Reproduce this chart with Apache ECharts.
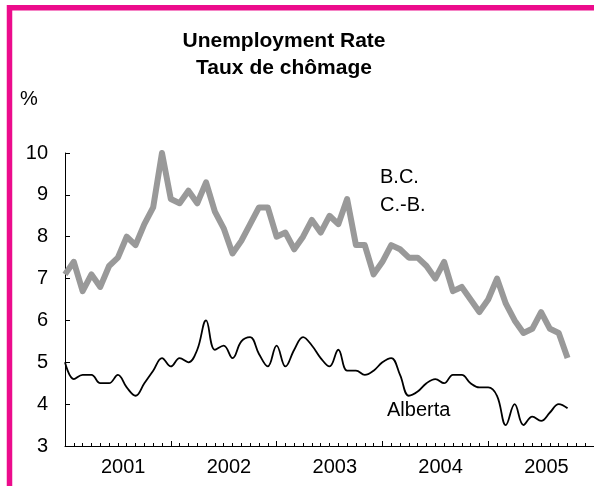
<!DOCTYPE html>
<html>
<head>
<meta charset="utf-8">
<title>Unemployment Rate</title>
<script src="https://cdn.jsdelivr.net/npm/echarts@6/dist/echarts.min.js"></script>
<style>
  html, body { margin: 0; padding: 0; background: #fff; }
  #main { width: 594px; height: 486px; }
</style>
</head>
<body>
<div id="main"></div>
<script>
// monthly, Jan 2001 onwards
var years = ['2001', '2002', '2003', '2004', '2005'];
var bcRate = [
  7.1, 7.4, 6.7, 7.1, 6.8, 7.3, 7.5, 8.0, 7.8, 8.3, 8.7, 10.0,
  8.9, 8.8, 9.1, 8.8, 9.3, 8.6, 8.2, 7.6, 7.9, 8.3, 8.7, 8.7,
  8.0, 8.1, 7.7, 8.0, 8.4, 8.1, 8.5, 8.3, 8.9, 7.8, 7.8, 7.1,
  7.4, 7.8, 7.7, 7.5, 7.5, 7.3, 7.0, 7.4, 6.7, 6.8, 6.5, 6.2,
  6.5, 7.0, 6.4, 6.0, 5.7, 5.8, 6.2, 5.8, 5.7, 5.1
];
var albertaRate = [
  5.0, 4.6, 4.7, 4.7, 4.5, 4.5, 4.7, 4.4, 4.2, 4.5, 4.8, 5.1,
  4.9, 5.1, 5.0, 5.3, 6.0, 5.3, 5.4, 5.1, 5.5, 5.6, 5.2, 4.9,
  5.4, 4.9, 5.3, 5.6, 5.4, 5.1, 4.9, 5.3, 4.8, 4.8, 4.7, 4.8,
  5.0, 5.1, 4.7, 4.2, 4.3, 4.5, 4.6, 4.5, 4.7, 4.7, 4.5, 4.4,
  4.4, 4.2, 3.5, 4.0, 3.5, 3.7, 3.6, 3.8, 4.0, 3.9
];

var font = 'Liberation Sans, Arial, sans-serif';
var pink = '#EC0C8C';

var myChart = echarts.init(document.getElementById('main'));

// year labels sit in the middle of each 12-month span
var labelPos = years.map(function (y, k) { return k * 12 + 6.6; });

var option = {
  backgroundColor: '#fff',
  animation: false,
  title: {
    text: 'Unemployment Rate\nTaux de chômage',
    left: 279,
    top: 23,
    textAlign: 'center',
    textStyle: {
      fontFamily: font,
      fontSize: 21,
      fontWeight: 'bold',
      color: '#000',
      lineHeight: 27
    }
  },
  grid: {
    left: 65,
    top: 153,
    width: 532,
    height: 293
  },
  xAxis: {
    type: 'value',
    min: 0,
    max: 60,
    interval: 12,
    splitLine: { show: false },
    axisLine: { lineStyle: { color: '#000', width: 1 } },
    axisTick: { inside: true, length: 5, lineStyle: { color: '#000' } },
    minorTick: { show: true, splitNumber: 12, length: 3, lineStyle: { color: '#000' } },
    axisLabel: {
      customValues: labelPos,
      margin: 11,
      fontFamily: font,
      fontSize: 20,
      color: '#000',
      formatter: function (v) {
        return years[Math.floor(v / 12)];
      }
    }
  },
  yAxis: {
    type: 'value',
    min: 3,
    max: 10,
    interval: 1,
    splitLine: { show: false },
    axisLine: { show: true, lineStyle: { color: '#000', width: 1 } },
    axisTick: { show: true, inside: true, length: 5, lineStyle: { color: '#000' } },
    axisLabel: {
      margin: 17,
      fontFamily: font,
      fontSize: 20,
      color: '#000'
    }
  },
  series: [
    {
      name: 'B.C.',
      type: 'line',
      symbol: 'none',
      data: bcRate.map(function (v, i) { return [i, v]; }),
      lineStyle: { color: '#999999', width: 6, join: 'round' }
    },
    {
      name: 'Alberta',
      type: 'line',
      symbol: 'none',
      smooth: 0.4,
      data: albertaRate.map(function (v, i) { return [i, v]; }),
      lineStyle: { color: '#000', width: 1.8 }
    }
  ],
  graphic: [
    {
      type: 'rect',
      silent: true,
      shape: { x: 9.5, y: 7.8, width: 800, height: 800 },
      style: { fill: 'none', stroke: pink, lineWidth: 5.5 }
    },
    {
      type: 'text', x: 20, y: 99,
      style: { text: '%', font: '20px ' + font, fill: '#000', textVerticalAlign: 'middle' }
    },
    {
      type: 'text', x: 380, y: 177,
      style: { text: 'B.C.', font: '20px ' + font, fill: '#000', textVerticalAlign: 'middle' }
    },
    {
      type: 'text', x: 380, y: 205,
      style: { text: 'C.-B.', font: '20px ' + font, fill: '#000', textVerticalAlign: 'middle' }
    },
    {
      type: 'text', x: 387, y: 410,
      style: { text: 'Alberta', font: '20px ' + font, fill: '#000', textVerticalAlign: 'middle' }
    }
  ]
};

myChart.setOption(option);
</script>
</body>
</html>
